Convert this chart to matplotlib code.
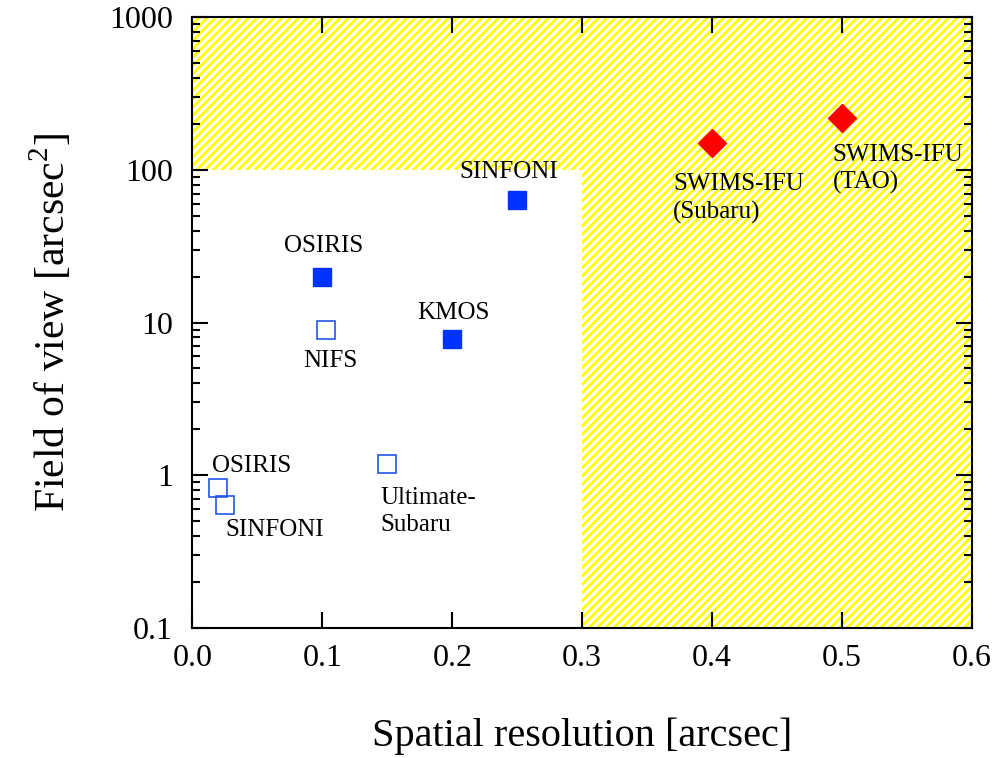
import matplotlib
matplotlib.use("Agg")
import matplotlib.pyplot as plt
from matplotlib.patches import Polygon

plt.rcParams['font.family'] = ['Liberation Serif', 'DejaVu Serif']
plt.rcParams['mathtext.fontset'] = 'custom'
plt.rcParams['mathtext.rm'] = 'Liberation Serif'
plt.rcParams['hatch.linewidth'] = 2.0

# instruments: resolution [arcsec], field of view [arcsec^2]
filled_names = ['SINFONI', 'OSIRIS', 'KMOS']
filled_res = [0.25, 0.10, 0.20]
filled_fov = [64, 20, 7.8]

open_names = ['NIFS', 'Ultimate-\nSubaru', 'OSIRIS', 'SINFONI']
open_res = [0.103, 0.15, 0.02, 0.025]
open_fov = [9.0, 1.18, 0.82, 0.64]

swims_names = ['SWIMS-IFU\n(Subaru)', 'SWIMS-IFU\n(TAO)']
swims_res = [0.40, 0.50]
swims_fov = [150, 220]

# label offsets (points) and alignment
filled_off = [(-6, 20), (1, 22), (1, 19)]
open_off = [(3, -23), (-5, -34), (24, 16), (36, -18)]
open_ha = ['center', 'left', 'center', 'center']
swims_off = [(-28, -40), (-7, -37)]

fig = plt.figure(figsize=(9.97, 7.58), dpi=100)
ax = fig.add_axes([0.193, 0.172, 0.782, 0.805])
ax.set_xlim(0, 0.6)
ax.set_ylim(0.1, 1000)
ax.set_yscale('log')

# hatched region outside the 0.3 arcsec / 100 arcsec^2 box
region = [(0, 100), (0.3, 100), (0.3, 0.1), (0.6, 0.1), (0.6, 1000), (0, 1000)]
ax.add_patch(Polygon(region, closed=True, facecolor='white', edgecolor='#ffff00',
                     linewidth=0, hatch='////', zorder=0))

ax.plot(filled_res, filled_fov, 's', ms=13, color='#0033ff', mec='#0033ff', zorder=3)
ax.plot(open_res, open_fov, 's', ms=13, mfc='none', mec='#2255ee', mew=1.2, zorder=3)
ax.plot(swims_res, swims_fov, 'D', ms=14, color='#ff0000', zorder=3)

for n, x, y, off in zip(filled_names, filled_res, filled_fov, filled_off):
    ax.annotate(n, (x, y), xytext=off, textcoords='offset points',
                ha='center', va='center', fontsize=18)
for n, x, y, off, ha in zip(open_names, open_res, open_fov, open_off, open_ha):
    ax.annotate(n, (x, y), xytext=off, textcoords='offset points',
                ha=ha, va='center', fontsize=18, linespacing=1.3)
for n, x, y, off in zip(swims_names, swims_res, swims_fov, swims_off):
    ax.annotate(n, (x, y), xytext=off, textcoords='offset points',
                ha='left', va='center', fontsize=18, linespacing=1.3)

ax.set_xticks([0.0, 0.1, 0.2, 0.3, 0.4, 0.5, 0.6])
ax.set_xticklabels(['0.0', '0.1', '0.2', '0.3', '0.4', '0.5', '0.6'])
ax.set_yticks([0.1, 1, 10, 100, 1000])
ax.set_yticklabels(['0.1', '1', '10', '100', '1000'])
ax.tick_params(which='both', direction='in', top=True, right=True, width=1.5,
               labelsize=23)
ax.tick_params(which='major', length=11.5)
ax.tick_params(axis='x', which='major', pad=12)
ax.tick_params(axis='y', which='major', pad=14)
ax.tick_params(which='minor', length=6)
for s in ax.spines.values():
    s.set_linewidth(1.5)

ax.set_xlabel('Spatial resolution [arcsec]', fontsize=29, labelpad=32)
ax.set_ylabel('Field of view [arcsec$^{2}$]', fontsize=30, labelpad=25)

fig.savefig('out.png', dpi=100)
